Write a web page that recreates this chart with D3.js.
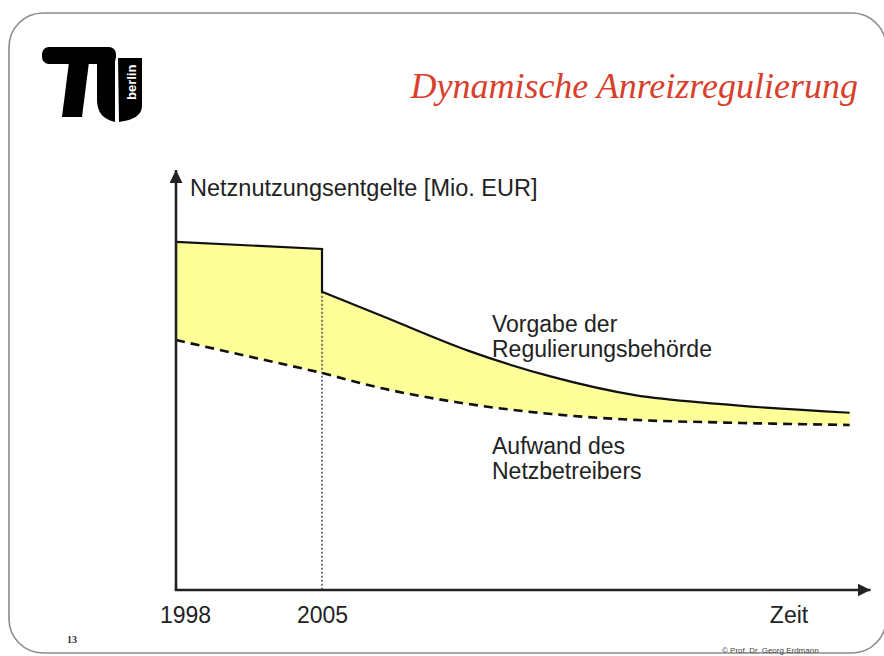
<!DOCTYPE html>
<html>
<head>
<meta charset="utf-8">
<script src="https://cdn.jsdelivr.net/npm/d3@7"></script>
<style>
  html, body { margin: 0; padding: 0; background: #fff; }
  svg { display: block; }
</style>
</head>
<body>
<svg id="chart" width="884" height="656"></svg>
<script>
// ---- Data ----
const title = "Dynamische Anreizregulierung";
const yAxisLabel = "Netznutzungsentgelte [Mio. EUR]";
const xAxisLabel = "Zeit";
const tickYears = [1998, 2005];
const tickLabels = ["1998", "2005"];
// Vorgabe der Regulierungsbehörde, before the 2005 step
const yearsBefore = [1998, 2005];
const vorgabeBefore = [82.9, 81.2];
// after 2005
const yearsAfter = [2005, 2008, 2012, 2016, 2020, 2024, 2030.3];
const vorgabeAfter = [71.0, 65.0, 57.0, 50.8, 46.4, 44.3, 42.2];
// Aufwand des Netzbetreibers
const aufwandBefore = [59.5, 51.7];
const aufwandAfter = [51.7, 47.9, 44.3, 41.9, 40.5, 39.9, 39.3];
const seriesLabels = [["Vorgabe der", "Regulierungsbehörde"], ["Aufwand des", "Netzbetreibers"]];
const pageNumber = "13";
const footer = "© Prof. Dr. Georg Erdmann";

// ---- Scales ----
const svg = d3.select("#chart");
const x = d3.scaleLinear().domain([1998, 2005]).range([176, 322]);
const y = d3.scaleLinear().domain([0, 100]).range([590, 170]);
const xEnd = 2031.3;
const sans = "Liberation Sans, Arial, sans-serif";

// ---- slide frame ----
svg.append("rect").attr("x", 9).attr("y", 13).attr("width", 877).attr("height", 640)
  .attr("rx", 34).attr("ry", 34).attr("fill", "#fff").attr("stroke", "#8c8c8c").attr("stroke-width", 1.6);

// ---- logo ----
const logo = svg.append("g");
logo.append("rect").attr("x", 42).attr("y", 47).attr("width", 74).attr("height", 17).attr("rx", 7).attr("fill", "#000");
logo.append("path").attr("d", "M69,62 L89,62 L82,117 L62,117 Z").attr("fill", "#000");
logo.append("path").attr("d", "M97,55 L115,55 L115,122 Q97,118 97,100 Z").attr("fill", "#000");
logo.append("path").attr("d", "M118,58 L142,58 L142,106 Q142,119 119,122 Z").attr("fill", "#000");
logo.append("text").attr("transform", "translate(136,100) rotate(-90)")
  .attr("font-family", sans).attr("font-weight", "bold")
  .attr("font-size", 13).attr("fill", "#fff").text("berlin");

// ---- title ----
svg.append("text").attr("x", 858).attr("y", 98).attr("text-anchor", "end")
  .attr("font-family", "Liberation Serif, Times New Roman, serif").attr("font-style", "italic")
  .attr("font-size", 36).attr("fill", "#d8402c").text(title);

// ---- areas ----
const areaLin = d3.area().x(d => x(d.t)).y0(d => y(d.lo)).y1(d => y(d.hi)).curve(d3.curveLinear);
const areaMono = d3.area().x(d => x(d.t)).y0(d => y(d.lo)).y1(d => y(d.hi)).curve(d3.curveMonotoneX);
const before = yearsBefore.map((t, i) => ({t, hi: vorgabeBefore[i], lo: aufwandBefore[i]}));
const after = yearsAfter.map((t, i) => ({t, hi: vorgabeAfter[i], lo: aufwandAfter[i]}));
svg.append("path").attr("d", areaLin(before)).attr("fill", "#ffff99");
svg.append("path").attr("d", areaMono(after)).attr("fill", "#ffff99");

// ---- dotted vertical at 2005 ----
svg.append("line").attr("x1", x(2005)).attr("x2", x(2005)).attr("y1", y(vorgabeAfter[0])).attr("y2", y(0))
  .attr("stroke", "#333").attr("stroke-width", 1.3).attr("stroke-dasharray", "2,2");

// ---- lines ----
const lineLin = d3.line().x(d => x(d.t)).y(d => y(d.v)).curve(d3.curveLinear);
const lineMono = d3.line().x(d => x(d.t)).y(d => y(d.v)).curve(d3.curveMonotoneX);
const upperA = yearsBefore.map((t, i) => ({t, v: vorgabeBefore[i]}));
const upperB = yearsAfter.map((t, i) => ({t, v: vorgabeAfter[i]}));
const lowerA = yearsBefore.map((t, i) => ({t, v: aufwandBefore[i]}));
const lowerB = yearsAfter.map((t, i) => ({t, v: aufwandAfter[i]}));
const strip = s => s.replace(/^M[-\d.,e]+/, "");
svg.append("path").attr("d", lineLin(upperA) + "L" + x(2005) + "," + y(vorgabeAfter[0]) + strip(lineMono(upperB)))
  .attr("fill", "none").attr("stroke", "#111").attr("stroke-width", 2.2).attr("stroke-linejoin", "miter");
svg.append("path").attr("d", lineLin(lowerA) + strip(lineMono(lowerB)))
  .attr("fill", "none").attr("stroke", "#111").attr("stroke-width", 2.6).attr("stroke-dasharray", "9,6");

// ---- axes ----
const defs = svg.append("defs");
defs.append("marker").attr("id", "arrow").attr("viewBox", "0 0 10 10").attr("refX", 10).attr("refY", 5)
  .attr("markerWidth", 5).attr("markerHeight", 5).attr("markerUnits", "strokeWidth").attr("orient", "auto")
  .append("path").attr("d", "M0,0 L10,5 L0,10 Z").attr("fill", "#222");
svg.append("line").attr("x1", x(1998)).attr("y1", y(0)).attr("x2", x(1998)).attr("y2", y(100))
  .attr("stroke", "#222").attr("stroke-width", 2.6).attr("marker-end", "url(#arrow)");
svg.append("line").attr("x1", x(1998) - 1.3).attr("y1", y(0)).attr("x2", x(xEnd)).attr("y2", y(0))
  .attr("stroke", "#222").attr("stroke-width", 2.6).attr("marker-end", "url(#arrow)");

const xAxis = d3.axisBottom(x).tickValues(tickYears).tickSize(0).tickPadding(0)
  .tickFormat((d, i) => tickLabels[i]);
const gx = svg.append("g").attr("transform", `translate(0,${y(0)})`).call(xAxis);
gx.select(".domain").remove();
gx.selectAll("text").attr("font-family", sans).attr("font-size", 23)
  .attr("fill", "#222").attr("dy", null).attr("y", 33)
  .attr("dx", (d, i) => i === 0 ? 9 : 0);

svg.append("text").attr("x", 789).attr("y", 623).attr("text-anchor", "middle")
  .attr("font-family", sans).attr("font-size", 23).attr("fill", "#222").text(xAxisLabel);
svg.append("text").attr("x", 190).attr("y", 196)
  .attr("font-family", sans).attr("font-size", 23.5).attr("fill", "#222").text(yAxisLabel);

// ---- series labels ----
const labelPos = [[492, 332], [492, 454]];
seriesLabels.forEach((lines, i) => {
  const t = svg.append("text").attr("x", labelPos[i][0]).attr("y", labelPos[i][1])
    .attr("font-family", sans).attr("font-size", 23).attr("fill", "#222");
  lines.forEach((l, j) => t.append("tspan").attr("x", labelPos[i][0]).attr("dy", j === 0 ? 0 : 25).text(l));
});

// ---- page number & footer ----
svg.append("text").attr("x", 67).attr("y", 643).attr("font-family", "Liberation Serif, serif")
  .attr("font-size", 10).attr("font-weight", "bold").attr("fill", "#333").text(pageNumber);
svg.append("text").attr("x", 722).attr("y", 653).attr("font-family", sans)
  .attr("font-size", 8).attr("fill", "#444").text(footer);
</script>
</body>
</html>
